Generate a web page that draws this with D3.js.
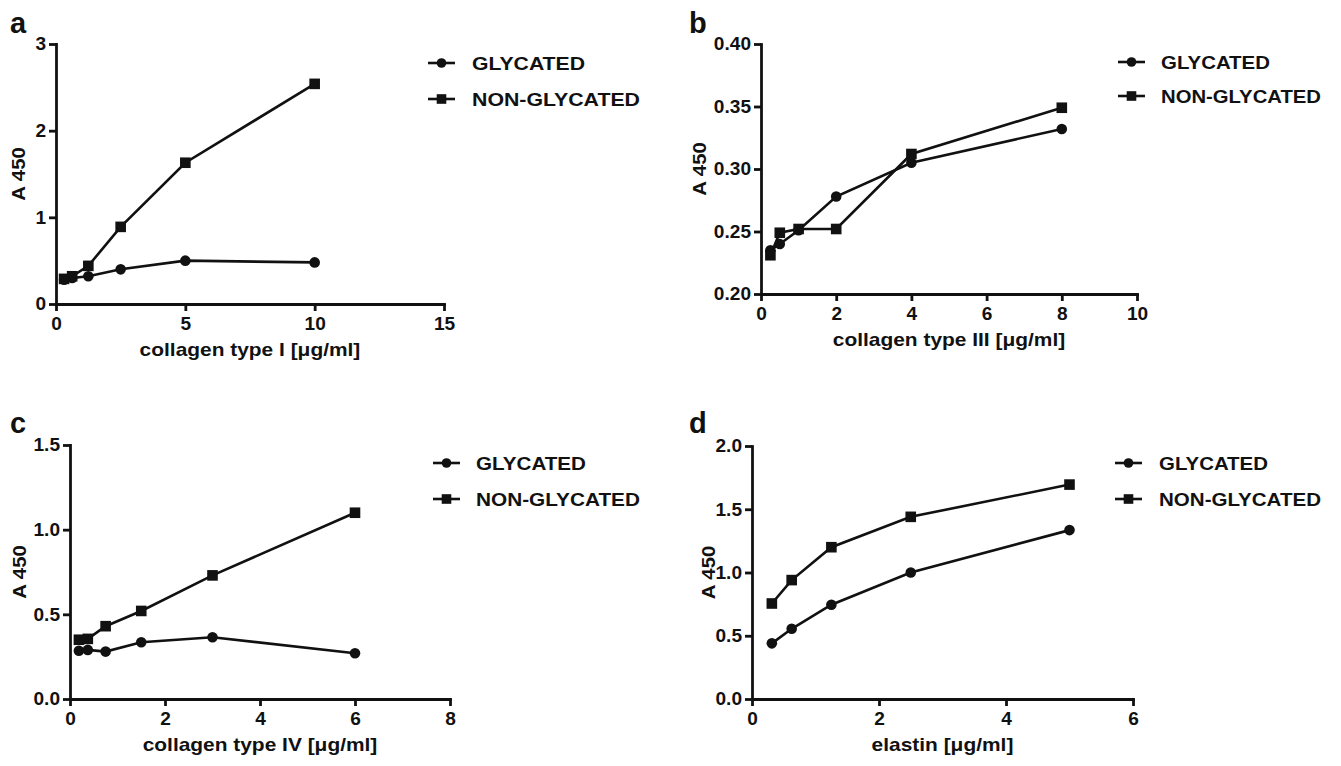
<!DOCTYPE html>
<meta charset="utf-8">
<style>
body { margin: 0; background: #fff; }
text {
  font-family: "Liberation Sans", Arial, sans-serif;
  font-weight: bold;
  fill: #111;
}
.axis path, .axis line { stroke: #111; stroke-width: 2.8px; }
.axis text { font-size: 18px; font-family: "Liberation Sans", Arial, sans-serif; }
.series { fill: none; stroke: #111; stroke-width: 2.6px; }
.marker { fill: #111; }
</style>
<svg width="1341" height="766"></svg>
<script src="https://d3js.org/d3.v7.min.js"></script>
<script>

// series names
var seriesNames = ["GLYCATED", "NON-GLYCATED"];

// panel a - collagen type I
var aX = [0.3125, 0.625, 1.25, 2.5, 5, 10];
var aGlycated = [0.28, 0.30, 0.32, 0.40, 0.50, 0.48];
var aNonGlycated = [0.29, 0.32, 0.44, 0.89, 1.63, 2.54];
var aXTicks = [0, 5, 10, 15];
var aYTicks = [0, 1, 2, 3];

// panel b - collagen type III
var bX = [0.25, 0.5, 1, 2, 4, 8];
var bGlycated = [0.235, 0.240, 0.251, 0.278, 0.305, 0.332];
var bNonGlycated = [0.231, 0.249, 0.252, 0.252, 0.312, 0.349];
var bXTicks = [0, 2, 4, 6, 8, 10];
var bYTicks = [0.20, 0.25, 0.30, 0.35, 0.40];

// panel c - collagen type IV
var cX = [0.1875, 0.375, 0.75, 1.5, 3, 6];
var cGlycated = [0.285, 0.29, 0.28, 0.335, 0.365, 0.27];
var cNonGlycated = [0.35, 0.355, 0.43, 0.52, 0.73, 1.10];
var cXTicks = [0, 2, 4, 6, 8];
var cYTicks = [0.0, 0.5, 1.0, 1.5];

// panel d - elastin
var dX = [0.3125, 0.625, 1.25, 2.5, 5];
var dGlycated = [0.44, 0.555, 0.745, 1.00, 1.335];
var dNonGlycated = [0.755, 0.94, 1.20, 1.44, 1.695];
var dXTicks = [0, 2, 4, 6];
var dYTicks = [0.0, 0.5, 1.0, 1.5, 2.0];

var svg = d3.select("svg");

var panels = [
  {letter: "a", x: aX, g: aGlycated, n: aNonGlycated, xTicks: aXTicks, yTicks: aYTicks, yFmt: d3.format("d"),
   title: "collagen type I [\u03bcg/ml]", left: 56, right: 444, top: 44, bottom: 304, yTitleX: 18,
   letterPos: [10, 33], legend: [428, 472, 63, 99], legW: [113, 168]},
  {letter: "b", x: bX, g: bGlycated, n: bNonGlycated, xTicks: bXTicks, yTicks: bYTicks, yFmt: d3.format(".2f"),
   title: "collagen type III [\u03bcg/ml]", left: 761, right: 1137, top: 44, bottom: 294, yTitleX: 699,
   letterPos: [689, 33], legend: [1118, 1161, 62, 96], legW: [109, 160]},
  {letter: "c", x: cX, g: cGlycated, n: cNonGlycated, xTicks: cXTicks, yTicks: cYTicks, yFmt: d3.format(".1f"),
   title: "collagen type IV [\u03bcg/ml]", left: 70, right: 450, top: 445, bottom: 699, yTitleX: 19,
   letterPos: [10, 433], legend: [433, 476, 463, 499], legW: [110, 164]},
  {letter: "d", x: dX, g: dGlycated, n: dNonGlycated, xTicks: dXTicks, yTicks: dYTicks, yFmt: d3.format(".1f"),
   title: "elastin [\u03bcg/ml]", left: 752, right: 1133, top: 446, bottom: 699, yTitleX: 708,
   letterPos: [689, 433], legend: [1115, 1159, 463, 499], legW: [109, 162]}
];

panels.forEach(drawPanel);

// widen all axis text a little, like the reference typeface
svg.selectAll(".axis text").each(function() {
  var w = this.getComputedTextLength();
  d3.select(this).attr("textLength", w * 1.06).attr("lengthAdjust", "spacingAndGlyphs");
});

function drawPanel(p) {
  var x = d3.scaleLinear()
      .domain([0, p.xTicks[p.xTicks.length - 1]])
      .range([p.left, p.right]);
  var y = d3.scaleLinear()
      .domain([p.yTicks[0], p.yTicks[p.yTicks.length - 1]])
      .range([p.bottom, p.top]);

  svg.append("g")
      .attr("class", "axis")
      .attr("transform", "translate(0," + p.bottom + ")")
      .call(d3.axisBottom(x).tickValues(p.xTicks).tickFormat(d3.format("d")).tickSize(7).tickSizeOuter(0).tickPadding(6));

  svg.append("g")
      .attr("class", "axis")
      .attr("transform", "translate(" + p.left + ",0)")
      .call(d3.axisLeft(y).tickValues(p.yTicks).tickFormat(p.yFmt).tickSize(7).tickSizeOuter(0).tickPadding(3));

  svg.selectAll(".axis .domain").attr("stroke-linecap", "square");

  var line = d3.line()
      .x(function(d) { return x(d[0]); })
      .y(function(d) { return y(d[1]); });

  var glyc = p.x.map(function(v, i) { return [v, p.g[i]]; });
  var non = p.x.map(function(v, i) { return [v, p.n[i]]; });

  var g = svg.append("g");
  g.append("path").attr("class", "series").attr("d", line(glyc));
  g.selectAll(".c").data(glyc).enter().append("circle")
      .attr("class", "marker")
      .attr("cx", function(d) { return x(d[0]); })
      .attr("cy", function(d) { return y(d[1]); })
      .attr("r", 5.3);

  g.append("path").attr("class", "series").attr("d", line(non));
  g.selectAll(".s").data(non).enter().append("rect")
      .attr("class", "marker")
      .attr("x", function(d) { return x(d[0]) - 5.3; })
      .attr("y", function(d) { return y(d[1]) - 5.3; })
      .attr("width", 10.6)
      .attr("height", 10.6);

  // axis titles
  svg.append("text")
      .attr("x", (p.left + p.right) / 2)
      .attr("y", p.bottom + 52)
      .attr("text-anchor", "middle")
      .style("font-size", "18.5px")
      .text(p.title)
      .each(function() {
        d3.select(this).attr("textLength", this.getComputedTextLength() * 1.13).attr("lengthAdjust", "spacingAndGlyphs");
      });

  svg.append("text")
      .attr("transform", "translate(" + p.yTitleX + "," + ((p.top + p.bottom) / 2) + ") rotate(-90)")
      .attr("text-anchor", "middle")
      .attr("dy", "0.36em")
      .style("font-size", "18.5px")
      .text("A 450")
      .each(function() {
        d3.select(this).attr("textLength", this.getComputedTextLength() * 1.1).attr("lengthAdjust", "spacingAndGlyphs");
      });

  // panel letter
  svg.append("text")
      .attr("x", p.letterPos[0])
      .attr("y", p.letterPos[1])
      .style("font-size", "29px")
      .text(p.letter);

  // legend
  var lx = p.legend[0], tx = p.legend[1];
  [p.legend[2], p.legend[3]].forEach(function(ly, i) {
    svg.append("line")
        .attr("class", "series")
        .attr("x1", lx).attr("x2", lx + 27)
        .attr("y1", ly).attr("y2", ly);
    if (i === 0) {
      svg.append("circle").attr("class", "marker").attr("cx", lx + 13.5).attr("cy", ly).attr("r", 4.8);
    } else {
      svg.append("rect").attr("class", "marker").attr("x", lx + 8.7).attr("y", ly - 4.8).attr("width", 9.6).attr("height", 9.6);
    }
    svg.append("text")
        .attr("x", tx)
        .attr("y", ly)
        .attr("dy", "0.36em")
        .style("font-size", "19px")
        .attr("textLength", p.legW[i])
        .attr("lengthAdjust", "spacingAndGlyphs")
        .text(seriesNames[i]);
  });
}
</script>
